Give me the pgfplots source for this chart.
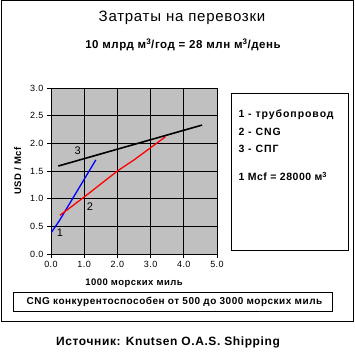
\documentclass[border=0pt]{standalone}
\usepackage{pgfplots}
\pgfplotsset{compat=1.18}
\usepackage{fontspec}
\setmainfont[LetterSpace=5]{Liberation Sans}
\newfontfamily\legfont[LetterSpace=9]{Liberation Sans}
\definecolor{plotgray}{RGB}{192,192,192}
\begin{document}
\begin{tikzpicture}[x=1pt,y=1pt]
\path[use as bounding box] (0,0) rectangle (355,353);
\draw[line width=1pt] (1,352) rectangle (353,32);
\node[font=\fontsize{15}{17}\selectfont] at (182,335) {Затраты на перевозки};
\node[font=\fontsize{11.5}{13}\selectfont\bfseries] at (183,308) {10 млрд м\textsuperscript{3}/год = 28 млн м\textsuperscript{3}/день};
\begin{axis}[
  at={(51pt,99pt)}, anchor=south west,
  scale only axis, width=166pt, height=166pt,
  xmin=0, xmax=5, ymin=0, ymax=3,
  xtick={0,1,...,5}, ytick={0,0.5,...,3},
  axis background/.style={fill=plotgray},
  grid=major, major grid style={black, line width=0.6pt},
  axis line style={black, line width=0.8pt},
  tick style={black, line width=0.6pt},
  tick align=outside, major tick length=4pt,
  xtick pos=bottom, ytick pos=left,
  /pgf/number format/.cd, fixed, fixed zerofill, precision=1, assume math mode=true,
  /pgfplots/.cd,
  tick label style={font=\fontsize{9}{10}\selectfont},
  xlabel={1000 морских миль}, ylabel={USD / Mcf},
  label style={font=\fontsize{9.5}{11}\selectfont\bfseries},
  xlabel style={yshift=-4pt},
  ylabel style={yshift=2pt},
]
\addplot[blue, line width=1.3pt] coordinates {(0,0.38) (0.25,0.6) (1.35,1.7)};
\addplot[red, line width=1.3pt] coordinates {(0.27,0.7) (1.0,1.03) (2.0,1.5) (2.5,1.7) (3.45,2.12)};
\addplot[black, line width=1.6pt] coordinates {(0.22,1.59) (4.55,2.33)};
\node[font=\fontsize{11}{12}\selectfont] at (axis cs:0.27,0.38) {1};
\node[font=\fontsize{11}{12}\selectfont] at (axis cs:1.17,0.86) {2};
\node[font=\fontsize{11}{12}\selectfont] at (axis cs:0.8,1.86) {3};
\end{axis}
\draw[line width=0.8pt] (231,260) rectangle (348,103);
\node[anchor=base west, font=\fontsize{10.5}{12}\legfont\bfseries] at (235,235) {1 - трубопровод};
\node[anchor=base west, font=\fontsize{10.5}{12}\legfont\bfseries] at (235,217) {2 - CNG};
\node[anchor=base west, font=\fontsize{10.5}{12}\legfont\bfseries] at (235,200) {3 - СПГ};
\node[anchor=base west, font=\fontsize{10.5}{12}\selectfont\bfseries] at (235,172) {1 Mcf = 28000 м\textsuperscript{3}};
\draw[line width=0.8pt] (13,61) rectangle (332,42);
\node[font=\fontsize{10}{11}\selectfont\bfseries] at (174.5,51) {CNG конкурентоспособен от 500 до 3000 морских миль};
\node[font=\fontsize{12}{13}\selectfont\bfseries] at (168,11) {Источник: Knutsen O.A.S. Shipping};
\end{tikzpicture}
\end{document}
